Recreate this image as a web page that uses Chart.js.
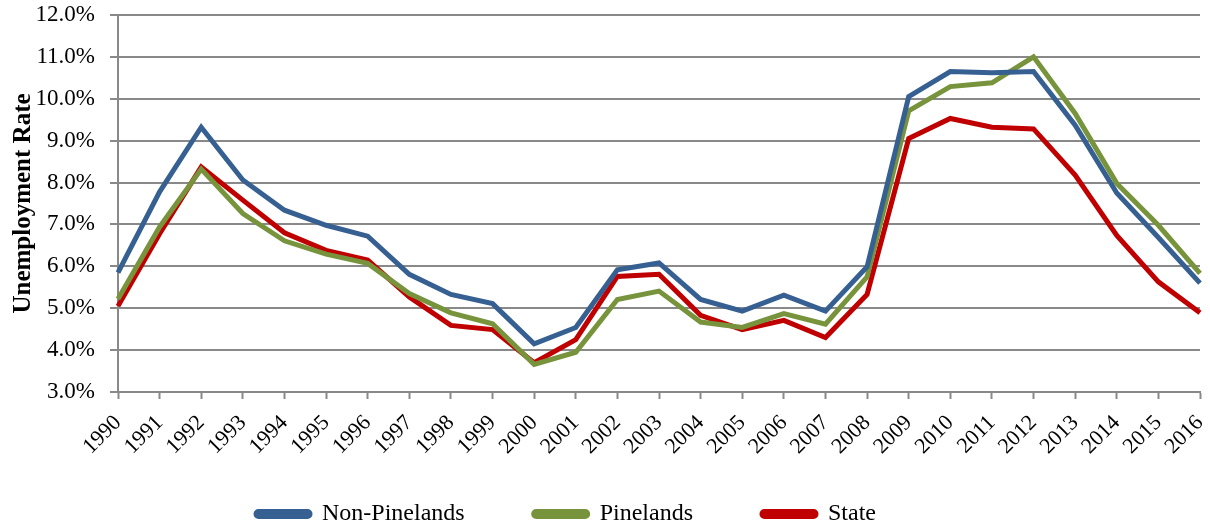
<!DOCTYPE html>
<html>
<head>
<meta charset="utf-8">
<title>Unemployment Rate 1990–2016</title>
<script src="https://cdn.jsdelivr.net/npm/chart.js@4.4.1/dist/chart.umd.min.js"></script>
<style>
  html, body { margin: 0; padding: 0; background: #ffffff; }
  #wrap { width: 1210px; height: 529px; }
</style>
</head>
<body>
<div id="wrap"><canvas id="chart" width="1210" height="529"></canvas></div>
<script>
// Annual unemployment rate (%), 1990–2016
const years = ['1990','1991','1992','1993','1994','1995','1996','1997','1998','1999',
               '2000','2001','2002','2003','2004','2005','2006','2007','2008','2009',
               '2010','2011','2012','2013','2014','2015','2016'];

const nonPinelands = [5.85, 7.78, 9.32, 8.06, 7.34, 6.98, 6.72, 5.81, 5.33, 5.11,
                      4.15, 4.54, 5.92, 6.08, 5.21, 4.93, 5.31, 4.93, 5.99, 10.05,
                      10.65, 10.62, 10.65, 9.37, 7.75, 6.69, 5.60];

const pinelands = [5.22, 6.94, 8.32, 7.26, 6.61, 6.29, 6.07, 5.35, 4.89, 4.63,
                   3.66, 3.95, 5.21, 5.41, 4.67, 4.54, 4.87, 4.62, 5.75, 9.71,
                   10.29, 10.38, 11.00, 9.65, 7.98, 6.98, 5.83];

const state = [5.05, 6.78, 8.37, 7.58, 6.80, 6.38, 6.15, 5.27, 4.59, 4.49,
               3.70, 4.25, 5.76, 5.81, 4.83, 4.49, 4.71, 4.30, 5.33, 9.05,
               9.53, 9.32, 9.28, 8.18, 6.74, 5.63, 4.89];

const seriesNames = ['Non-Pinelands', 'Pinelands', 'State'];
const yAxisTitle = 'Unemployment Rate';

const FONT = "'Liberation Serif', 'Times New Roman', serif";
const GRID = '#898989';

// nudges the legend block into place after layout
const legendShift = {
  id: 'legendShift',
  afterLayout(chart) {
    const lg = chart.legend;
    if (!lg) return;
    const dx = -34, dy = -29;
    lg.left += dx; lg.right += dx;
    lg.top += dy; lg.bottom += dy;
  }
};

function series(label, data, color) {
  return {
    label, data,
    borderColor: color,
    backgroundColor: color,
    borderWidth: 5,
    pointRadius: 0,
    pointHoverRadius: 0,
    tension: 0,
    fill: false
  };
}

new Chart(document.getElementById('chart'), {
  type: 'line',
  data: {
    labels: years,
    datasets: [
      series(seriesNames[0], nonPinelands, '#376092'),
      series(seriesNames[1], pinelands, '#77933C'),
      series(seriesNames[2], state, '#C00000')
    ]
  },
  plugins: [legendShift],
  options: {
    responsive: false,
    devicePixelRatio: 1,
    animation: false,
    layout: { padding: { left: 0, right: 10, top: 15, bottom: -36 } },
    plugins: {
      tooltip: { enabled: false },
      legend: {
        position: 'bottom',
        labels: {
          color: '#000000',
          font: { family: FONT, size: 24 },
          boxWidth: 54,
          boxHeight: 5,
          padding: 69,
          useBorderRadius: true,
          borderRadius: 2.5
        }
      }
    },
    scales: {
      x: {
        offset: false,
        grid: {
          drawOnChartArea: false,
          drawTicks: true,
          tickLength: 7,
          tickColor: GRID,
          tickWidth: 2
        },
        border: { color: GRID, width: 2 },
        ticks: {
          color: '#000000',
          font: { family: FONT, size: 22 },
          minRotation: 45,
          maxRotation: 45,
          autoSkip: false,
          padding: 11
        },
        afterFit(scale) {
          scale.height = 70;
          scale.paddingLeft = 0;
          scale.paddingRight = 0;
        }
      },
      y: {
        min: 3,
        max: 12,
        grid: {
          color: GRID,
          lineWidth: 2,
          drawTicks: true,
          tickLength: 8,
          tickColor: GRID
        },
        border: { color: GRID, width: 2 },
        ticks: {
          stepSize: 1,
          color: '#000000',
          font: { family: FONT, size: 23 },
          padding: 15,
          callback: v => Number(v).toFixed(1) + '%'
        },
        title: {
          display: true,
          text: yAxisTitle,
          color: '#000000',
          font: { family: FONT, size: 25, weight: 'bold' },
          padding: { top: 9, bottom: 0 }
        },
        afterFit(scale) {
          scale.width = 118;
          scale.paddingTop = 0;
          scale.paddingBottom = 0;
        }
      }
    }
  }
});
</script>
</body>
</html>
